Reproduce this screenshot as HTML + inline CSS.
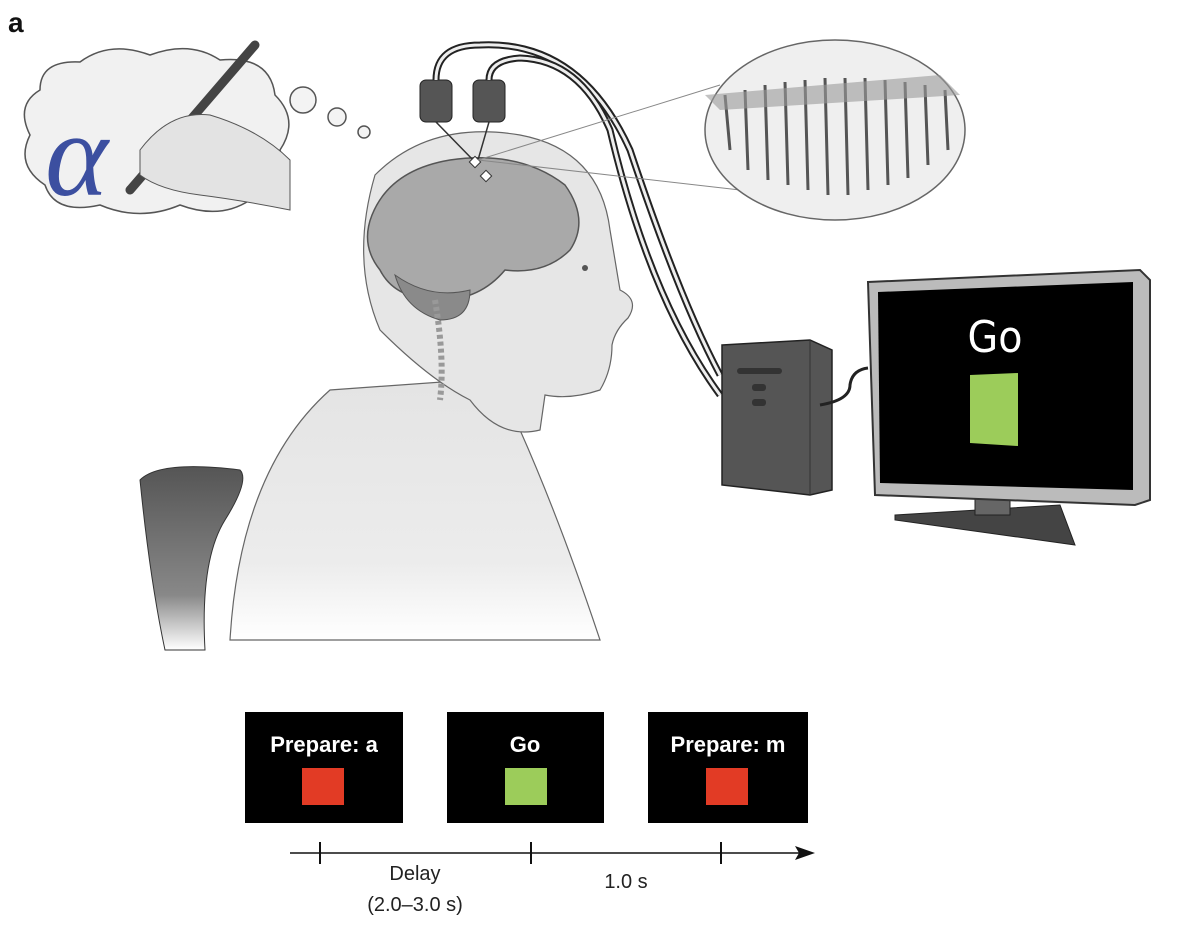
<!DOCTYPE html>
<html><head><meta charset="utf-8"><style>
html,body{margin:0;padding:0;background:#fff;}
svg{display:block;font-family:"Liberation Sans",sans-serif;}
</style></head><body>
<svg width="1186" height="950" viewBox="0 0 1186 950" xmlns="http://www.w3.org/2000/svg">
<defs>
<linearGradient id="body" x1="0" y1="0" x2="0" y2="1">
<stop offset="0" stop-color="#e4e4e4"/><stop offset="0.7" stop-color="#ececec"/><stop offset="1" stop-color="#fff"/>
</linearGradient>
<linearGradient id="chair" x1="0" y1="0" x2="0" y2="1">
<stop offset="0" stop-color="#555"/><stop offset="0.7" stop-color="#888"/><stop offset="1" stop-color="#fff"/>
</linearGradient>
</defs>
<text x="8" y="32" font-size="28" font-weight="bold" fill="#111">a</text>

<!-- thought cloud -->
<path d="M40,90 Q40,60 80,62 Q110,40 150,55 Q190,40 220,60 Q270,55 275,95 Q300,120 280,150 Q295,190 250,200 Q220,220 180,205 Q140,222 100,205 Q55,215 45,185 Q15,165 30,135 Q15,105 40,90Z" fill="#f1f1f1" stroke="#555" stroke-width="1.5"/>
<circle cx="303" cy="100" r="13" fill="#f3f3f3" stroke="#555" stroke-width="1.5"/>
<circle cx="337" cy="117" r="9" fill="#f3f3f3" stroke="#555" stroke-width="1.5"/>
<circle cx="364" cy="132" r="6" fill="#f3f3f3" stroke="#555" stroke-width="1.5"/>
<text x="45" y="195" font-family="Liberation Serif,serif" font-style="italic" font-size="120" fill="#3c4fa0">α</text>
<path d="M130,190 L255,45" stroke="#444" stroke-width="9" stroke-linecap="round"/>
<path d="M140,150 Q170,110 210,115 Q260,130 290,160 L290,210 Q240,200 200,195 Q160,190 140,175Z" fill="#e3e3e3" stroke="#555"/>

<!-- body -->
<path d="M330,390 Q240,470 230,640 L600,640 Q560,520 520,430 Q500,400 470,380 Z" fill="url(#body)" stroke="#666" stroke-width="1.2"/>
<!-- head -->
<path d="M375,175 Q430,120 520,135 Q600,150 610,230 Q615,260 620,290 Q640,300 628,318 Q615,330 612,345 Q612,370 600,390 Q570,400 545,395 L540,430 Q500,440 470,400 Q430,380 380,330 Q350,260 375,175Z" fill="#e6e6e6" stroke="#666" stroke-width="1.2"/>
<!-- brain -->
<path d="M372,215 Q390,170 450,160 Q520,150 565,185 Q590,220 570,250 Q545,275 505,270 Q480,300 440,300 Q395,300 380,270 Q360,245 372,215Z" fill="#a9a9a9" stroke="#555" stroke-width="1.5"/>
<path d="M395,275 Q430,300 470,290 Q470,320 440,320 Q405,310 395,275Z" fill="#8a8a8a" stroke="#555"/>
<path d="M435,300 Q445,360 440,400" stroke="#999" stroke-width="6" fill="none" stroke-dasharray="4 3"/>
<circle cx="585" cy="268" r="3" fill="#555"/>

<!-- chair -->
<path d="M140,480 Q160,460 240,470 Q250,480 225,520 Q200,560 205,650 L165,650 Q150,580 140,480Z" fill="url(#chair)" stroke="#333"/>

<!-- connectors and cables -->
<rect x="420" y="80" width="32" height="42" rx="6" fill="#555" stroke="#222"/>
<rect x="473" y="80" width="32" height="42" rx="6" fill="#555" stroke="#222"/>
<path d="M436,80 Q436,45 480,45 Q580,40 630,150 Q680,300 720,375" stroke="#222" stroke-width="7" fill="none"/>
<path d="M436,80 Q436,45 480,45 Q580,40 630,150 Q680,300 720,375" stroke="#eee" stroke-width="3" fill="none"/>
<path d="M489,80 Q489,60 520,58 Q580,60 610,130 Q650,300 720,395" stroke="#222" stroke-width="7" fill="none"/>
<path d="M489,80 Q489,60 520,58 Q580,60 610,130 Q650,300 720,395" stroke="#eee" stroke-width="3" fill="none"/>
<path d="M436,122 L475,162 M489,122 L478,160" stroke="#333" stroke-width="1.5"/>
<rect x="471" y="158" width="8" height="8" fill="#fff" stroke="#333" transform="rotate(45 475 162)"/>
<rect x="482" y="172" width="8" height="8" fill="#fff" stroke="#333" transform="rotate(45 486 176)"/>
<path d="M478,160 L720,85 M478,160 L740,190" stroke="#888" stroke-width="1"/>
<ellipse cx="835" cy="130" rx="130" ry="90" fill="#efefef" stroke="#666" stroke-width="1.5"/>
<g stroke="#555" stroke-width="3">
<path d="M725,95 L730,150 M745,90 L748,170 M765,85 L768,180 M785,82 L788,185 M805,80 L808,190 M825,78 L828,195 M845,78 L848,195 M865,78 L868,190 M885,80 L888,185 M905,82 L908,178 M925,85 L928,165 M945,90 L948,150"/>
</g>
<path d="M705,95 L940,75 L960,95 L720,110Z" fill="#999" opacity="0.6"/>

<!-- computer box -->
<path d="M722,345 L810,340 L832,350 L832,490 L810,495 L722,485Z" fill="#555" stroke="#222" stroke-width="1.5"/>
<path d="M810,340 L810,495" stroke="#333"/>
<rect x="737" y="368" width="45" height="6" rx="3" fill="#333"/>
<rect x="752" y="384" width="14" height="7" rx="3" fill="#333"/>
<rect x="752" y="399" width="14" height="7" rx="3" fill="#333"/>
<path d="M820,405 Q850,400 850,385 Q852,370 868,368" stroke="#222" stroke-width="3" fill="none"/>

<!-- monitor -->
<path d="M895,515 L1060,505 L1075,545 L895,520Z" fill="#444" stroke="#222"/>
<rect x="975" y="480" width="35" height="35" fill="#666" stroke="#222"/>
<path d="M868,282 L1140,270 L1150,280 L1150,500 L1135,505 L875,495 Z" fill="#bbb" stroke="#333" stroke-width="2"/>
<path d="M878,292 L1133,282 L1133,490 L880,483Z" fill="#000"/>
<text x="995" y="352" font-size="44" fill="#fff" text-anchor="middle" font-family="DejaVu Sans Condensed,Liberation Sans,sans-serif">Go</text>
<path d="M970,375 L1018,373 L1018,446 L970,443Z" fill="#9ccc5a"/>

<!-- trial panels -->
<rect x="245" y="712" width="158" height="111" fill="#000"/>
<text x="324" y="752" font-size="22" font-weight="bold" fill="#fff" text-anchor="middle">Prepare: a</text>
<rect x="302" y="768" width="42" height="37" fill="#e23b25"/>
<rect x="447" y="712" width="157" height="111" fill="#000"/>
<text x="525" y="752" font-size="22" font-weight="bold" fill="#fff" text-anchor="middle">Go</text>
<rect x="505" y="768" width="42" height="37" fill="#9ccc5a"/>
<rect x="648" y="712" width="160" height="111" fill="#000"/>
<text x="728" y="752" font-size="22" font-weight="bold" fill="#fff" text-anchor="middle">Prepare: m</text>
<rect x="706" y="768" width="42" height="37" fill="#e23b25"/>

<!-- timeline -->
<line x1="290" y1="853" x2="805" y2="853" stroke="#111" stroke-width="1.5"/>
<path d="M815,853 L795,846 L799,853 L795,860Z" fill="#111"/>
<line x1="320" y1="842" x2="320" y2="864" stroke="#111" stroke-width="2"/>
<line x1="531" y1="842" x2="531" y2="864" stroke="#111" stroke-width="2"/>
<line x1="721" y1="842" x2="721" y2="864" stroke="#111" stroke-width="2"/>
<text x="415" y="880" font-size="20" fill="#222" text-anchor="middle">Delay</text>
<text x="415" y="911" font-size="20" fill="#222" text-anchor="middle">(2.0–3.0 s)</text>
<text x="626" y="888" font-size="20" fill="#222" text-anchor="middle">1.0 s</text>
</svg>
</body></html>
